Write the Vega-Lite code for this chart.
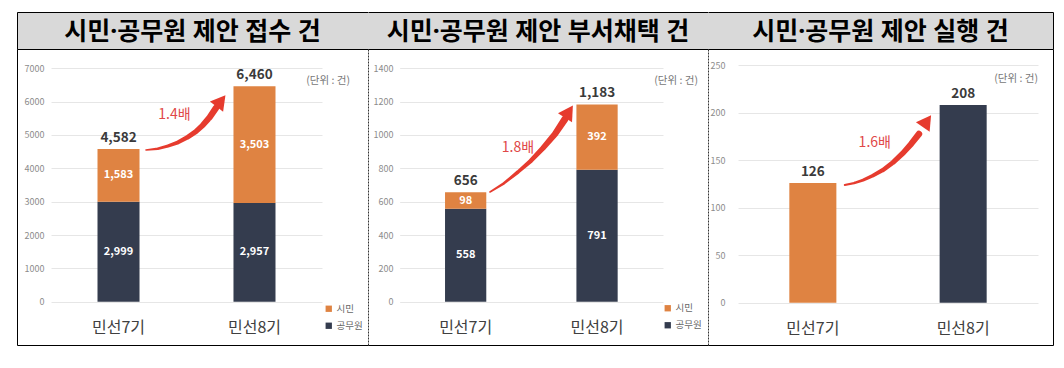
{
  "$schema": "https://vega.github.io/schema/vega-lite/v6.json",
  "padding": {"left": 14, "top": 12, "right": 14, "bottom": 23},
  "background": "white",
  "bounds": "flush",
  "spacing": 0,
  "columns": 3,
  "resolve": {"scale": {"color": "independent"}, "legend": {"color": "independent"}},
  "config": {"view": {"stroke": null}, "font": "Noto Sans CJK KR", "concat": {"spacing": 0}},
  "datasets": {
    "p1": [
      {"period": "민선7기", "type": "공무원", "value": 2999},
      {"period": "민선7기", "type": "시민", "value": 1583},
      {"period": "민선8기", "type": "공무원", "value": 2957},
      {"period": "민선8기", "type": "시민", "value": 3503}
    ],
    "p2": [
      {"period": "민선7기", "type": "공무원", "value": 558},
      {"period": "민선7기", "type": "시민", "value": 98},
      {"period": "민선8기", "type": "공무원", "value": 791},
      {"period": "민선8기", "type": "시민", "value": 392}
    ],
    "p3": [
      {"period": "민선7기", "value": 126},
      {"period": "민선8기", "value": 208}
    ],
    "a1": [{"ax": 1.204, "ay": 4550}, {"ax": 1.29, "ay": 4590}, {"ax": 1.365, "ay": 4670}, {"ax": 1.44, "ay": 4780}, {"ax": 1.512, "ay": 4940}, {"ax": 1.57, "ay": 5100}, {"ax": 1.623, "ay": 5300}, {"ax": 1.672, "ay": 5530}, {"ax": 1.718, "ay": 5810}],
    "h1": [{"ax": 1.755, "ay": 6020}],
    "m1": [{"ax": 1.413, "ay": 5600, "label": "1.4배"}],
    "a2": [{"ax": 1.184, "ay": 658}, {"ax": 1.29, "ay": 710}, {"ax": 1.397, "ay": 778}, {"ax": 1.495, "ay": 845}, {"ax": 1.588, "ay": 922}, {"ax": 1.679, "ay": 1006}, {"ax": 1.755, "ay": 1096}],
    "h2": [{"ax": 1.785, "ay": 1140}],
    "m2": [{"ax": 1.397, "ay": 922, "label": "1.8배"}],
    "a3": [{"ax": 1.213, "ay": 123.8}, {"ax": 1.275, "ay": 125.8}, {"ax": 1.335, "ay": 129}, {"ax": 1.4, "ay": 133.6}, {"ax": 1.468, "ay": 139.6}, {"ax": 1.535, "ay": 147.6}, {"ax": 1.601, "ay": 157.4}, {"ax": 1.655, "ay": 167}, {"ax": 1.707, "ay": 177.4}],
    "h3": [{"ax": 1.76, "ay": 191}],
    "m3": [{"ax": 1.413, "ay": 168, "label": "1.6배"}]
  },
  "concat": [
    {
      "width": 351, "height": 37,
      "view": {"fill": "#d9d9d9", "stroke": null},
      "data": {"values": [{"t": "시민·공무원 제안 접수 건"}]},
      "layer": [
        {"mark": {"type": "text", "fontSize": 25, "fontWeight": "bold", "color": "#000000", "dy": 1, "font": "Noto Sans, Noto Sans CJK KR"}, "encoding": {"text": {"field": "t", "type": "nominal"}}},
        {"mark": {"type": "point", "opacity": 0}, "encoding": {
          "x": {"datum": 0, "type": "quantitative", "scale": {"domain": [0, 1]}, "axis": {"orient": "top", "labels": false, "ticks": false, "grid": false, "title": null, "domainColor": "#000000"}},
          "y": {"datum": 0, "type": "quantitative", "scale": {"domain": [0, 1]}, "axis": {"orient": "left", "labels": false, "ticks": false, "grid": false, "title": null, "domainColor": "#000000"}}}},
        {"mark": {"type": "point", "opacity": 0}, "encoding": {
          "x": {"datum": 0, "type": "quantitative", "scale": {"domain": [0, 1]}, "axis": {"orient": "bottom", "labels": false, "ticks": false, "grid": false, "title": null, "domainColor": "#000000"}},
          "y": {"datum": 0, "type": "quantitative", "scale": {"domain": [0, 1]}, "axis": {"orient": "right", "labels": false, "ticks": false, "grid": false, "title": null, "domainColor": "#333333", "domainDash": [2, 1]}}}}
      ],
      "resolve": {"scale": {"x": "independent", "y": "independent"}}
    },
    {
      "width": 340, "height": 37,
      "view": {"fill": "#d9d9d9", "stroke": null},
      "data": {"values": [{"t": "시민·공무원 제안 부서채택 건"}]},
      "layer": [
        {"mark": {"type": "text", "fontSize": 25, "fontWeight": "bold", "color": "#000000", "dy": 1, "font": "Noto Sans, Noto Sans CJK KR"}, "encoding": {"text": {"field": "t", "type": "nominal"}}},
        {"mark": {"type": "point", "opacity": 0}, "encoding": {
          "x": {"datum": 0, "type": "quantitative", "scale": {"domain": [0, 1]}, "axis": {"orient": "top", "labels": false, "ticks": false, "grid": false, "title": null, "domainColor": "#000000"}},
          "y": {"datum": 0, "type": "quantitative", "scale": {"domain": [0, 1]}, "axis": {"orient": "right", "labels": false, "ticks": false, "grid": false, "title": null, "domainColor": "#333333", "domainDash": [2, 1]}}}},
        {"mark": {"type": "point", "opacity": 0}, "encoding": {
          "x": {"datum": 0, "type": "quantitative", "scale": {"domain": [0, 1]}, "axis": {"orient": "bottom", "labels": false, "ticks": false, "grid": false, "title": null, "domainColor": "#000000"}}}}
      ],
      "resolve": {"scale": {"x": "independent", "y": "independent"}}
    },
    {
      "width": 345, "height": 37,
      "view": {"fill": "#d9d9d9", "stroke": null},
      "data": {"values": [{"t": "시민·공무원 제안 실행 건"}]},
      "layer": [
        {"mark": {"type": "text", "fontSize": 25, "fontWeight": "bold", "color": "#000000", "dy": 1, "font": "Noto Sans, Noto Sans CJK KR"}, "encoding": {"text": {"field": "t", "type": "nominal"}}},
        {"mark": {"type": "point", "opacity": 0}, "encoding": {
          "x": {"datum": 0, "type": "quantitative", "scale": {"domain": [0, 1]}, "axis": {"orient": "top", "labels": false, "ticks": false, "grid": false, "title": null, "domainColor": "#000000"}},
          "y": {"datum": 0, "type": "quantitative", "scale": {"domain": [0, 1]}, "axis": {"orient": "right", "labels": false, "ticks": false, "grid": false, "title": null, "domainColor": "#000000"}}}},
        {"mark": {"type": "point", "opacity": 0}, "encoding": {
          "x": {"datum": 0, "type": "quantitative", "scale": {"domain": [0, 1]}, "axis": {"orient": "bottom", "labels": false, "ticks": false, "grid": false, "title": null, "domainColor": "#000000"}}}}
      ],
      "resolve": {"scale": {"x": "independent", "y": "independent"}}
    },
    {
      "width": 351, "height": 296,
      "title": {"text": "(단위 : 건)", "orient": "top", "anchor": "end", "frame": "group", "offset": -37, "dx": -18, "fontSize": 10.5, "fontWeight": "normal", "color": "#777777"},
      "data": {"name": "p1"},
      "layer": [
        {
          "layer": [
            {
              "layer": [
                {"mark": {"type": "bar"}, "encoding": {
                  "x": {"field": "period", "type": "nominal", "scale": {"range": [34, 305], "paddingInner": 0.691, "paddingOuter": 0.342}, "axis": {"orient": "bottom", "title": null, "domain": false, "ticks": false, "tickSize": 0, "labelPadding": -18, "labelBaseline": "middle", "labelAngle": 0, "labelFontSize": 16, "labelColor": "#404040"}},
                  "y": {"field": "value", "type": "quantitative", "stack": "zero", "scale": {"domain": [0, 7000], "range": [252.7, 19.3], "nice": false}, "axis": {"orient": "left", "title": null, "format": "d", "values": [0, 1000, 2000, 3000, 4000, 5000, 6000, 7000], "domain": false, "ticks": false, "tickSize": 0, "labelPadding": -27, "labelFontSize": 9, "labelColor": "#8c8c8c", "gridColor": "#e6e6e6", "labelFlush": false, "labelOverlap": false}},
                  "color": {"field": "type", "type": "nominal", "scale": {"domain": ["시민", "공무원"], "range": ["#df8342", "#343c4e"]}, "legend": {"orient": "none", "legendX": 307, "legendY": 255, "title": null, "symbolType": "square", "symbolSize": 40, "labelFontSize": 9.5, "labelOffset": 3, "labelColor": "#666666", "rowPadding": 6, "padding": 0}},
                  "order": {"field": "type", "sort": "ascending"}}},
                {"transform": [{"aggregate": [{"op": "sum", "field": "value", "as": "total"}], "groupby": ["period"]}],
                 "mark": {"type": "text", "baseline": "bottom", "dy": -4, "fontSize": 13.5, "fontWeight": "bold", "color": "#3a3a3a"},
                 "encoding": {"x": {"field": "period", "type": "nominal"}, "y": {"field": "total", "type": "quantitative"}, "text": {"field": "total", "type": "quantitative", "format": ","}}},
                {"mark": {"type": "text", "fontSize": 11, "fontWeight": "bold", "color": "#ffffff"},
                 "encoding": {"x": {"field": "period", "type": "nominal"}, "y": {"field": "value", "type": "quantitative", "stack": "zero", "bandPosition": 0.5}, "detail": {"field": "type"}, "order": {"field": "type", "sort": "ascending"}, "text": {"field": "value", "type": "quantitative", "format": ","}}}
              ]
            },
            {
              "layer": [
                {"data": {"name": "a1"}, "mark": {"type": "trail", "color": "#e63b2e"}, "encoding": {
                  "x": {"field": "ax", "type": "quantitative", "scale": {"domain": [1, 2], "range": [101.3, 237.3], "nice": false, "zero": false}, "axis": null},
                  "y": {"field": "ay", "type": "quantitative"},
                  "size": {"field": "ax", "type": "quantitative", "scale": {"domain": [1.2, 1.72], "range": [1.5, 7], "zero": false}, "legend": null}}},
                {"data": {"name": "h1"}, "mark": {"type": "point", "shape": "triangle-up", "filled": true, "color": "#e63b2e", "opacity": 1, "size": 280, "angle": 38}, "encoding": {
                  "x": {"field": "ax", "type": "quantitative", "axis": null},
                  "y": {"field": "ay", "type": "quantitative"}}},
                {"data": {"name": "m1"}, "mark": {"type": "text", "fontSize": 14, "color": "#e04848"}, "encoding": {
                  "x": {"field": "ax", "type": "quantitative", "axis": null},
                  "y": {"field": "ay", "type": "quantitative"},
                  "text": {"field": "label", "type": "nominal"}}}
              ]
            }
          ],
          "resolve": {"scale": {"x": "independent"}}
        },
        {"mark": {"type": "point", "opacity": 0}, "encoding": {
          "x": {"datum": 0, "type": "quantitative", "scale": {"domain": [0, 1]}, "axis": {"orient": "bottom", "labels": false, "ticks": false, "grid": false, "title": null, "domainColor": "#000000"}},
          "y": {"datum": 0, "type": "quantitative", "scale": {"domain": [0, 1]}, "axis": {"orient": "left", "labels": false, "ticks": false, "grid": false, "title": null, "domainColor": "#000000"}}}},
        {"mark": {"type": "point", "opacity": 0}, "encoding": {
          "y": {"datum": 0, "type": "quantitative", "scale": {"domain": [0, 1]}, "axis": {"orient": "right", "labels": false, "ticks": false, "grid": false, "title": null, "domainColor": "#333333", "domainDash": [2, 1]}}}}
      ],
      "resolve": {"scale": {"x": "independent", "y": "independent"}}
    },
    {
      "width": 340, "height": 296,
      "title": {"text": "(단위 : 건)", "orient": "top", "anchor": "end", "frame": "group", "offset": -37, "dx": -10, "fontSize": 10.5, "fontWeight": "normal", "color": "#777777"},
      "data": {"name": "p2"},
      "layer": [
        {
          "layer": [
            {
              "layer": [
                {"mark": {"type": "bar"}, "encoding": {
                  "x": {"field": "period", "type": "nominal", "scale": {"range": [31.7, 295], "paddingInner": 0.686, "paddingOuter": 0.345}, "axis": {"orient": "bottom", "title": null, "domain": false, "ticks": false, "tickSize": 0, "labelPadding": -18, "labelBaseline": "middle", "labelAngle": 0, "labelFontSize": 16, "labelColor": "#404040"}},
                  "y": {"field": "value", "type": "quantitative", "stack": "zero", "scale": {"domain": [0, 1400], "range": [252.7, 19.3], "nice": false}, "axis": {"orient": "left", "title": null, "format": "d", "values": [0, 200, 400, 600, 800, 1000, 1200, 1400], "domain": false, "ticks": false, "tickSize": 0, "labelPadding": -25, "labelFontSize": 9, "labelColor": "#8c8c8c", "gridColor": "#e6e6e6", "labelFlush": false, "labelOverlap": false}},
                  "color": {"field": "type", "type": "nominal", "scale": {"domain": ["시민", "공무원"], "range": ["#df8342", "#343c4e"]}, "legend": {"orient": "none", "legendX": 295, "legendY": 254.5, "title": null, "symbolType": "square", "symbolSize": 40, "labelFontSize": 9.5, "labelOffset": 3, "labelColor": "#666666", "rowPadding": 6, "padding": 0}},
                  "order": {"field": "type", "sort": "ascending"}}},
                {"transform": [{"aggregate": [{"op": "sum", "field": "value", "as": "total"}], "groupby": ["period"]}],
                 "mark": {"type": "text", "baseline": "bottom", "dy": -4, "fontSize": 13.5, "fontWeight": "bold", "color": "#3a3a3a"},
                 "encoding": {"x": {"field": "period", "type": "nominal"}, "y": {"field": "total", "type": "quantitative"}, "text": {"field": "total", "type": "quantitative", "format": ","}}},
                {"mark": {"type": "text", "fontSize": 11, "fontWeight": "bold", "color": "#ffffff"},
                 "encoding": {"x": {"field": "period", "type": "nominal"}, "y": {"field": "value", "type": "quantitative", "stack": "zero", "bandPosition": 0.5}, "detail": {"field": "type"}, "order": {"field": "type", "sort": "ascending"}, "text": {"field": "value", "type": "quantitative", "format": ","}}}
              ]
            },
            {
              "layer": [
                {"data": {"name": "a2"}, "mark": {"type": "trail", "color": "#e63b2e"}, "encoding": {
                  "x": {"field": "ax", "type": "quantitative", "scale": {"domain": [1, 2], "range": [97.8, 229.2], "nice": false, "zero": false}, "axis": null},
                  "y": {"field": "ay", "type": "quantitative"},
                  "size": {"field": "ax", "type": "quantitative", "scale": {"domain": [1.18, 1.76], "range": [1.5, 7], "zero": false}, "legend": null}}},
                {"data": {"name": "h2"}, "mark": {"type": "point", "shape": "triangle-up", "filled": true, "color": "#e63b2e", "opacity": 1, "size": 280, "angle": 33}, "encoding": {
                  "x": {"field": "ax", "type": "quantitative", "axis": null},
                  "y": {"field": "ay", "type": "quantitative"}}},
                {"data": {"name": "m2"}, "mark": {"type": "text", "fontSize": 14, "color": "#e04848"}, "encoding": {
                  "x": {"field": "ax", "type": "quantitative", "axis": null},
                  "y": {"field": "ay", "type": "quantitative"},
                  "text": {"field": "label", "type": "nominal"}}}
              ]
            }
          ],
          "resolve": {"scale": {"x": "independent"}}
        },
        {"mark": {"type": "point", "opacity": 0}, "encoding": {
          "x": {"datum": 0, "type": "quantitative", "scale": {"domain": [0, 1]}, "axis": {"orient": "bottom", "labels": false, "ticks": false, "grid": false, "title": null, "domainColor": "#000000"}},
          "y": {"datum": 0, "type": "quantitative", "scale": {"domain": [0, 1]}, "axis": {"orient": "right", "labels": false, "ticks": false, "grid": false, "title": null, "domainColor": "#333333", "domainDash": [2, 1]}}}}
      ],
      "resolve": {"scale": {"x": "independent", "y": "independent"}}
    },
    {
      "width": 345, "height": 296,
      "title": {"text": "(단위 : 건)", "orient": "top", "anchor": "end", "frame": "group", "offset": -35, "dx": -15, "fontSize": 10.5, "fontWeight": "normal", "color": "#777777"},
      "data": {"name": "p3"},
      "layer": [
        {
          "layer": [
            {
              "layer": [
                {"mark": {"type": "bar"}, "encoding": {
                  "x": {"field": "period", "type": "nominal", "scale": {"range": [30, 330], "paddingInner": 0.687, "paddingOuter": 0.3415}, "axis": {"orient": "bottom", "title": null, "domain": false, "ticks": false, "tickSize": 0, "labelPadding": -17, "labelBaseline": "middle", "labelAngle": 0, "labelFontSize": 16, "labelColor": "#404040"}},
                  "y": {"field": "value", "type": "quantitative", "scale": {"domain": [0, 250], "range": [253.7, 16], "nice": false}, "axis": {"orient": "left", "title": null, "format": "d", "values": [0, 50, 100, 150, 200, 250], "domain": false, "ticks": false, "tickSize": 0, "labelPadding": -17, "labelFontSize": 9, "labelColor": "#8c8c8c", "gridColor": "#e6e6e6", "labelFlush": false, "labelOverlap": false}},
                  "color": {"field": "period", "type": "nominal", "scale": {"domain": ["민선7기", "민선8기"], "range": ["#df8342", "#343c4e"]}, "legend": null}}},
                {"mark": {"type": "text", "baseline": "bottom", "dy": -4, "fontSize": 13.5, "fontWeight": "bold", "color": "#3a3a3a"},
                 "encoding": {"x": {"field": "period", "type": "nominal"}, "y": {"field": "value", "type": "quantitative"}, "text": {"field": "value", "type": "quantitative", "format": ","}}}
              ]
            },
            {
              "layer": [
                {"data": {"name": "a3"}, "mark": {"type": "trail", "color": "#e63b2e"}, "encoding": {
                  "x": {"field": "ax", "type": "quantitative", "scale": {"domain": [1, 2], "range": [104.7, 255], "nice": false, "zero": false}, "axis": null},
                  "y": {"field": "ay", "type": "quantitative"},
                  "size": {"field": "ax", "type": "quantitative", "scale": {"domain": [1.21, 1.71], "range": [1.5, 7], "zero": false}, "legend": null}}},
                {"data": {"name": "h3"}, "mark": {"type": "point", "shape": "triangle-up", "filled": true, "color": "#e63b2e", "opacity": 1, "size": 280, "angle": 35}, "encoding": {
                  "x": {"field": "ax", "type": "quantitative", "axis": null},
                  "y": {"field": "ay", "type": "quantitative"}}},
                {"data": {"name": "m3"}, "mark": {"type": "text", "fontSize": 14, "color": "#e04848"}, "encoding": {
                  "x": {"field": "ax", "type": "quantitative", "axis": null},
                  "y": {"field": "ay", "type": "quantitative"},
                  "text": {"field": "label", "type": "nominal"}}}
              ]
            }
          ],
          "resolve": {"scale": {"x": "independent"}}
        },
        {"mark": {"type": "point", "opacity": 0}, "encoding": {
          "x": {"datum": 0, "type": "quantitative", "scale": {"domain": [0, 1]}, "axis": {"orient": "bottom", "labels": false, "ticks": false, "grid": false, "title": null, "domainColor": "#000000"}},
          "y": {"datum": 0, "type": "quantitative", "scale": {"domain": [0, 1]}, "axis": {"orient": "right", "labels": false, "ticks": false, "grid": false, "title": null, "domainColor": "#000000"}}}}
      ],
      "resolve": {"scale": {"x": "independent", "y": "independent"}}
    }
  ]
}
